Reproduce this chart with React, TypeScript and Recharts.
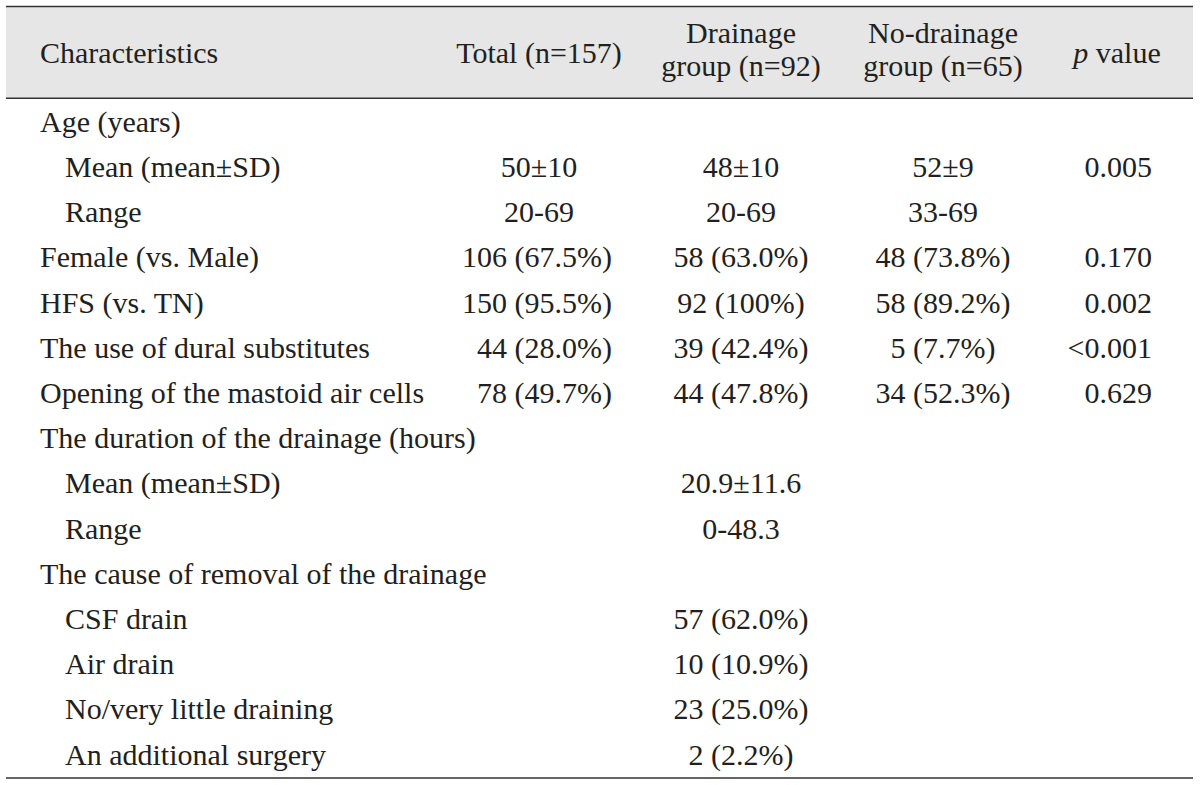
import React from "react";
import { ScatterChart, Scatter, XAxis, YAxis, ReferenceArea, ReferenceLine } from "recharts";

// ---------- data ----------
const columnHeaders: string[][] = [
  ["Characteristics"],
  ["Total (n=157)"],
  ["Drainage", "group (n=92)"],
  ["No-drainage", "group (n=65)"],
  ["p value"],
];

const rowLabels = [
  "Age (years)",
  "Mean (mean±SD)",
  "Range",
  "Female (vs. Male)",
  "HFS (vs. TN)",
  "The use of dural substitutes",
  "Opening of the mastoid air cells",
  "The duration of the drainage (hours)",
  "Mean (mean±SD)",
  "Range",
  "The cause of removal of the drainage",
  "CSF drain",
  "Air drain",
  "No/very little draining",
  "An additional surgery",
];

const rowLevel = [0, 1, 1, 0, 0, 0, 0, 0, 1, 1, 0, 1, 1, 1, 1];

const totalValues = ["", "50±10", "20-69", "106 (67.5%)", "150 (95.5%)", "44 (28.0%)", "78 (49.7%)", "", "", "", "", "", "", "", ""];
const drainageValues = ["", "48±10", "20-69", "58 (63.0%)", "92 (100%)", "39 (42.4%)", "44 (47.8%)", "", "20.9±11.6", "0-48.3", "", "57 (62.0%)", "10 (10.9%)", "23 (25.0%)", "2 (2.2%)"];
const noDrainageValues = ["", "52±9", "33-69", "48 (73.8%)", "58 (89.2%)", "5 (7.7%)", "34 (52.3%)", "", "", "", "", "", "", "", ""];
const pValues = ["", "0.005", "", "0.170", "0.002", "<0.001", "0.629", "", "", "", "", "", "", "", ""];

// ---------- layout ----------
const W = 1200;
const H = 785;
const FIRST_BASELINE = 131.7;
const ROW_PITCH = 45.2;
const toRow = (px: number) => (px - FIRST_BASELINE) / ROW_PITCH;
const FONT = "'Liberation Serif', 'Times New Roman', serif";
const FS = 30;
const TEXT = "#231f20";
const RULE = "#333333";

const LABEL_X = 40;
const INDENT = 25;
const COL_CENTER = [0, 539, 741, 943, 1117];
const TOTAL_RIGHT = 612;
const P_RIGHT = 1152;
const TABLE_L = 6;
const TABLE_R = 1193;

type Cell = { x: number; y: number; text: string; anchor: string };

const labelCells: Cell[] = rowLabels.map((t, i) => ({
  x: LABEL_X + rowLevel[i] * INDENT,
  y: i,
  text: t,
  anchor: "start",
}));

const totalCells: Cell[] = totalValues
  .map((t, i) => ({
    x: t.includes("(") ? TOTAL_RIGHT : COL_CENTER[1],
    y: i,
    text: t,
    anchor: t.includes("(") ? "end" : "middle",
  }))
  .filter((c) => c.text !== "");

const drainageCells: Cell[] = drainageValues
  .map((t, i) => ({ x: COL_CENTER[2], y: i, text: t, anchor: "middle" }))
  .filter((c) => c.text !== "");

const noDrainageCells: Cell[] = noDrainageValues
  .map((t, i) => ({ x: COL_CENTER[3], y: i, text: t, anchor: "middle" }))
  .filter((c) => c.text !== "");

const pCells: Cell[] = pValues
  .map((t, i) => ({ x: P_RIGHT, y: i, text: t, anchor: "end" }))
  .filter((c) => c.text !== "");

const HEADER_BASELINE = 63;
const HEADER_TWO_LINE_MID = 59.5;
const HEADER_LINE_GAP = 33;
const headerCells = columnHeaders.map((lines, c) => ({
  x: c === 0 ? LABEL_X : COL_CENTER[c],
  y: toRow(lines.length > 1 ? HEADER_TWO_LINE_MID : HEADER_BASELINE),
  lines,
  anchor: c === 0 ? "start" : "middle",
  italicP: c === 4,
}));

const renderCell = (props: any) => {
  const { cx, cy, payload } = props;
  return (
    <text x={cx} y={cy} textAnchor={payload.anchor} fontFamily={FONT} fontSize={FS} fill={TEXT}>
      {payload.text}
    </text>
  );
};

const renderHeader = (props: any) => {
  const { cx, cy, payload } = props;
  const lines: string[] = payload.lines;
  const n = lines.length;
  return (
    <g>
      {lines.map((ln, k) => {
        const y = cy + (k - (n - 1) / 2) * HEADER_LINE_GAP;
        if (payload.italicP && ln.startsWith("p ")) {
          return (
            <text key={k} x={cx} y={y} textAnchor={payload.anchor} fontFamily={FONT} fontSize={FS} fill={TEXT}>
              <tspan fontStyle="italic">p</tspan>
              {ln.slice(1)}
            </text>
          );
        }
        return (
          <text key={k} x={cx} y={y} textAnchor={payload.anchor} fontFamily={FONT} fontSize={FS} fill={TEXT}>
            {ln}
          </text>
        );
      })}
    </g>
  );
};

export default function App() {
  const yDomain = [-FIRST_BASELINE / ROW_PITCH, (H - FIRST_BASELINE) / ROW_PITCH];
  const topY = toRow(6.5);
  const headY = toRow(98.3);
  const botY = toRow(778);
  return (
    <div style={{ position: "absolute", left: 0, top: 0, width: W, height: H, background: "#ffffff" }}>
      <ScatterChart width={W} height={H} margin={{ top: 0, right: 0, bottom: 0, left: 0 }}>
        <XAxis type="number" dataKey="x" domain={[0, W]} hide allowDataOverflow />
        <YAxis type="number" dataKey="y" domain={yDomain} reversed hide allowDataOverflow />
        <ReferenceArea
          x1={TABLE_L}
          x2={TABLE_R}
          y1={topY}
          y2={headY}
          fill="#e6e6e6"
          fillOpacity={1}
          stroke="none"
          ifOverflow="visible"
        />
        <ReferenceLine
          segment={[{ x: TABLE_L, y: topY }, { x: TABLE_R, y: topY }]}
          stroke={RULE}
          strokeWidth={1.6}
          ifOverflow="visible"
        />
        <ReferenceLine
          segment={[{ x: TABLE_L, y: headY }, { x: TABLE_R, y: headY }]}
          stroke={RULE}
          strokeWidth={1.6}
          ifOverflow="visible"
        />
        <ReferenceLine
          segment={[{ x: TABLE_L, y: botY }, { x: TABLE_R, y: botY }]}
          stroke={RULE}
          strokeWidth={1.6}
          ifOverflow="visible"
        />
        <Scatter data={headerCells} shape={renderHeader} isAnimationActive={false} />
        <Scatter data={labelCells} shape={renderCell} isAnimationActive={false} />
        <Scatter data={totalCells} shape={renderCell} isAnimationActive={false} />
        <Scatter data={drainageCells} shape={renderCell} isAnimationActive={false} />
        <Scatter data={noDrainageCells} shape={renderCell} isAnimationActive={false} />
        <Scatter data={pCells} shape={renderCell} isAnimationActive={false} />
      </ScatterChart>
    </div>
  );
}
